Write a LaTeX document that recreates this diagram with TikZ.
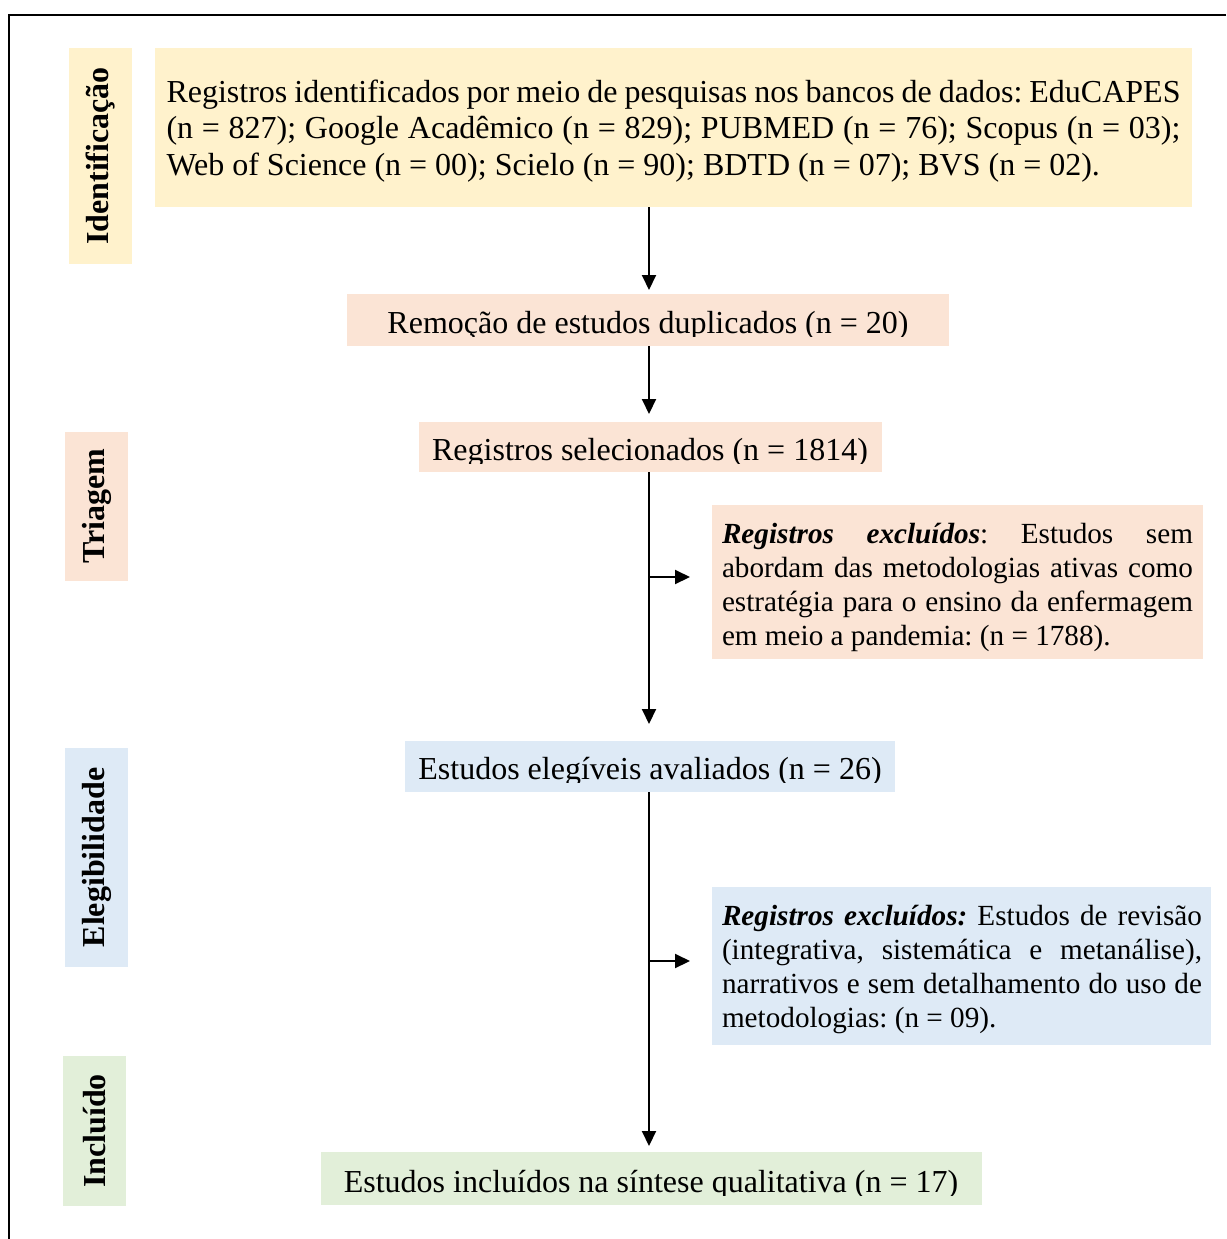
\documentclass[tikz,border=0pt]{standalone}
\usepackage{fontspec}
\setmainfont{Liberation Serif}
\usetikzlibrary{arrows.meta,calc}
\definecolor{yel}{HTML}{FFF2CC}
\definecolor{peach}{HTML}{FBE4D5}
\definecolor{blu}{HTML}{DEEAF6}
\definecolor{grn}{HTML}{E2EFD9}
\frenchspacing
\begin{document}
\begin{tikzpicture}[x=1pt,y=-1pt,
  panel/.style={draw=none,inner sep=0pt,outer sep=0pt},
  bigtext/.style={inner sep=0pt,font=\fontsize{32}{36.5}\selectfont},
  smalltext/.style={inner sep=0pt,align=left,font=\fontsize{29.2}{34}\selectfont},
  sidetext/.style={inner sep=0pt,rotate=90,font=\bfseries\fontsize{32}{36}\selectfont},
  flow/.style={line width=2pt,-{Triangle[length=15pt,width=14pt]}}]
\useasboundingbox (0,0) rectangle (1226,1239);
\draw[line width=2pt] (1226,15) -- (9,15) -- (9,1239);

% side labels
\node[panel,fill=yel,minimum width=63pt,minimum height=216pt] (lid) at (100.5,156) {};
\node[sidetext] (lidt) at (lid.center) {Identificação};
\node[panel,fill=peach,minimum width=63pt,minimum height=149pt] (ltr) at (96.5,506.5) {};
\node[sidetext] (ltrt) at (ltr.center) {Triagem};
\node[panel,fill=blu,minimum width=63pt,minimum height=219pt] (lel) at (96.5,857.5) {};
\node[sidetext] (lelt) at (lel.center) {Elegibilidade};
\node[panel,fill=grn,minimum width=63pt,minimum height=150pt] (lin) at (94.5,1131) {};
\node[sidetext] (lint) at (lin.center) {Incluído};

% main boxes
\node[panel,fill=yel,minimum width=1037pt,minimum height=159pt] (idbox) at (673.5,127.5) {};
\node[bigtext,align=left] (idtxt) at (673.5,131) {%
\makebox[1014pt][s]{Registros identificados por meio de pesquisas nos bancos de dados: EduCAPES}\\
\makebox[1014pt][s]{(n = 827); Google Acadêmico (n = 829); PUBMED (n = 76); Scopus (n = 03);}\\
Web of Science (n = 00); Scielo (n = 90); BDTD (n = 07); BVS (n = 02).};

\node[panel,fill=peach,minimum width=602pt,minimum height=52pt] (rem) at (648,320) {};
\begin{scope}
\clip (347,294) rectangle (949,336);
\node[bigtext,anchor=base] (remt) at (648,333) {Remoção de estudos duplicados (n = 20)};
\end{scope}

\node[panel,fill=peach,minimum width=463pt,minimum height=50pt] (sel) at (650.5,447) {};
\begin{scope}
\clip (419,422) rectangle (882,463);
\node[bigtext,anchor=base] (selt) at (650,460) {Registros selecionados (n = 1814)};
\end{scope}

\node[panel,fill=peach,minimum width=491pt,minimum height=154pt] (exa) at (957.5,582) {};
\node[smalltext] (exat) at (957.5,587) {%
\makebox[471pt][s]{\textbf{\textit{Registros excluídos}}: Estudos sem}\\
\makebox[471pt][s]{abordam das metodologias ativas como}\\
\makebox[471pt][s]{estratégia para o ensino da enfermagem}\\
em meio a pandemia: (n = 1788).};

\node[panel,fill=blu,minimum width=490pt,minimum height=51pt] (ele) at (650,766.5) {};
\begin{scope}
\clip (405,741) rectangle (895,782);
\node[bigtext,anchor=base] (elet) at (650,779) {Estudos elegíveis avaliados (n = 26)};
\end{scope}

\node[panel,fill=blu,minimum width=499pt,minimum height=158pt] (exb) at (961.5,966) {};
\node[smalltext] (exbt) at (962,969.5) {%
\makebox[480pt][s]{\textbf{\textit{Registros excluídos:}} Estudos de revisão}\\
\makebox[480pt][s]{(integrativa, sistemática e metanálise),}\\
\makebox[480pt][s]{narrativos e sem detalhamento do uso de}\\
metodologias: (n = 09).};

\node[panel,fill=grn,minimum width=661pt,minimum height=53pt] (inc) at (651.5,1178.5) {};
\begin{scope}
\clip (321,1152) rectangle (982,1195);
\node[bigtext,anchor=base] (inct) at (651,1192) {Estudos incluídos na síntese qualitativa (n = 17)};
\end{scope}

% connectors
\coordinate (spine) at (649,0);
\coordinate (ba) at (649,577);
\coordinate (bb) at (649,961);
\draw[flow,shorten >=4pt] (idbox.south -| spine) -- (rem.north -| spine);
\draw[flow,shorten >=8pt] (rem.south -| spine) -- (sel.north -| spine);
\draw[flow,shorten >=17pt] (sel.south -| spine) -- (ele.north -| spine);
\draw[flow,shorten >=6pt] (ele.south -| spine) -- (inc.north -| spine);
\draw[flow,shorten >=22pt] (ba) -- (exa.west |- ba);
\draw[flow,shorten >=22pt] (bb) -- (exb.west |- bb);
\end{tikzpicture}
\end{document}
